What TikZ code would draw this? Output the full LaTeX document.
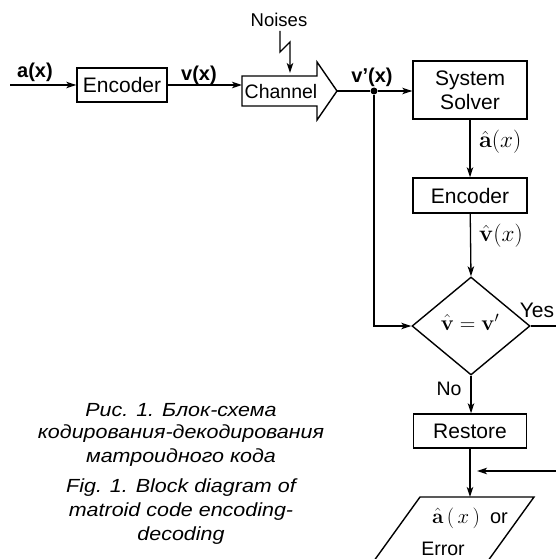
\documentclass[tikz,border=0pt]{standalone}
\usepackage[no-math]{fontspec}
\setmainfont{Liberation Sans}
\usetikzlibrary{arrows.meta,shapes.geometric,calc}

% caption line, widened a little
\newcommand{\capline}[1]{\scalebox{1.13}[1]{#1}}
% enlarged math label
\newcommand{\bigmath}[2]{\scalebox{#1}{$#2$}}

\begin{document}
\begin{tikzpicture}[x=1pt,y=-1pt,
  box/.style={draw, line width=1.4pt, inner sep=0pt, align=center,
              font=\fontsize{21}{24}\selectfont},
  lbl/.style={inner sep=0pt, font=\fontsize{20}{23}\selectfont\bfseries},
  mlbl/.style={inner sep=0pt, font=\fontsize{20.74}{24}\selectfont},
  plain/.style={inner sep=0pt, font=\fontsize{19.5}{23}\selectfont},
  wire/.style={line width=1.3pt},
  conn/.style={line width=1.3pt, -{Stealth[length=10pt,width=6.5pt,inset=2.5pt]}},
  captxt/.style={inner sep=0pt, font=\fontsize{19}{24}\selectfont\itshape},
]
\useasboundingbox (0,0) rectangle (556,559);
\clip (0,0) rectangle (556,559);

% --- transmitter side ---
\coordinate (in) at (10,85);
\node[box, minimum width=90, minimum height=34] (enc1) at (122,85) {Encoder};
\node[lbl] (ax) at (35,72) {a(x)};
\draw[conn] (in) -- (enc1);

% channel drawn as a block arrow
\coordinate (chL) at (242,91);
\coordinate (chT) at (337,91);
\draw[line width=1.4pt] (242,76) -- (317,76) -- (317,62) -- (chT) -- (317,120)
  -- (317,106) -- (242,106) -- cycle;
\node[plain] (chan) at (281,92) {Channel};
\node[lbl] (vx) at (199,75) {v(x)};
\draw[conn] (enc1.east) -- (enc1.east -| chL);

% noise entering the channel
\node[plain, font=\fontsize{18.5}{22}\selectfont] (noises) at (279,20) {Noises};
\coordinate (nz) at (290,73);
\draw[conn] ($(noises.south)+(1,4)$) -- ++(0,21) -- ++(10,-10) -- (nz);

% --- receiver side ---
\node[circle, fill, inner sep=0pt, minimum size=7pt] (dot) at (374,91) {};
\node[lbl] (vpx) at (372,77) {v’(x)};
\node[box, minimum width=114, minimum height=58] (solver) at (470,90) {System\\Solver};
\draw[wire] (chT) -- (dot);
\draw[conn] (dot) -- (solver.west |- dot);

\node[mlbl, anchor=west] (ahat) at (479,142) {\bigmath{1.12}{\hat{\mathbf{a}}(x)}};
\node[box, minimum width=114, minimum height=35] (enc2) at (470,195.5) {Encoder};
\draw[conn] (solver) -- (enc2);

\node[mlbl, anchor=west] (vhat) at (479,236) {\bigmath{1.12}{\hat{\mathbf{v}}(x)}};
\node[draw, diamond, line width=1.4pt, inner sep=0pt, minimum width=118,
      minimum height=98] (test) at (471,326) {};
\node[mlbl] (testtxt) at (470,322) {\bigmath{1.04}{\hat{\mathbf{v}}=\mathbf{v}'}};
\draw[conn] (enc2) -- (test.north);
\draw[conn] (dot) |- (test.west);

\node[plain, font=\fontsize{21}{24}\selectfont] (yes) at (537,310) {Yes};
\coordinate (yesout) at (560,326);
\draw[wire] (test.east) -- (yesout);

\node[plain] (no) at (449,389) {No};
\node[box, minimum width=113, minimum height=34] (restore) at (470,431) {Restore};
\draw[conn] (test.south) -- (restore.north -| test.south);

% output parallelogram
\coordinate (pTL) at (420,497);
\coordinate (pTR) at (534,497);
\coordinate (pBR) at (485,565);
\coordinate (pBL) at (371,565);
\draw[line width=1.4pt] (pBL) -- (pTL) -- (pTR) -- (pBR) -- cycle;
\draw[conn] (restore.south) -- (restore.south |- pTL);
\coordinate (ret) at (560,471);
\coordinate (retend) at (477,471);
\draw[conn] (ret) -- (retend);
\node[inner sep=0pt, font=\fontsize{20}{23}\selectfont] (outa) at (470,518)
      {$\hat{\mathbf{a}}\,(\,x\,)$\enspace or};
\node[plain] (outb) at (443,549) {Error};

% caption
\node[captxt] (ru1) at (181,410) {\capline{Рис. 1. Блок-схема}};
\node[captxt] (ru2) at (181,434) {\capline{кодирования-декодирования}};
\node[captxt] (ru3) at (181,458) {\capline{матроидного кода}};
\node[captxt] (en1) at (181,488) {\capline{Fig. 1. Block diagram of}};
\node[captxt] (en2) at (181,512) {\capline{matroid code encoding-}};
\node[captxt] (en3) at (181,536) {\capline{decoding}};
\end{tikzpicture}
\end{document}
